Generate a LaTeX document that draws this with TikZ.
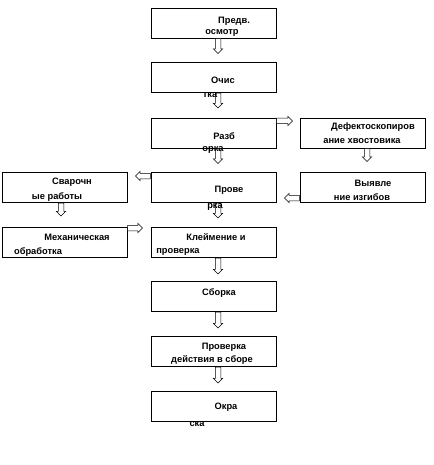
\documentclass[tikz,border=0pt]{standalone}
\usepackage{fontspec}
\setmainfont{Liberation Sans}
\usetikzlibrary{shapes.arrows, positioning}

\begin{document}
\begin{tikzpicture}[x=1pt, y=-1pt,
    box/.style={draw, line width=0.6pt, minimum width=125pt, minimum height=30pt, inner sep=0pt},
    lbl/.style={inner sep=0pt, font=\fontsize{9.3}{10}\selectfont\bfseries},
    arr/.style={single arrow, draw, line width=0.5pt, fill=white, inner sep=2.5pt,
        minimum width=9pt, single arrow head extend=2pt, single arrow head indent=0pt,
        shape border rotate=#1, anchor=tail}
]
\useasboundingbox (0,0) rectangle (433,465);

% main column
\node[box] (osm) at (213.5, 23) {};
\node[box] (och) at (213.5, 77.5) {};
\node[box] (razb) at (213.5, 133) {};
\node[box] (prov) at (213.5, 187.5) {};
\node[box] (kleim) at (213.5, 242.5) {};
\node[box] (sborka) at (213.5, 296.5) {};
\node[box] (provsb) at (213.5, 351.5) {};
\node[box] (okr) at (213.5, 406) {};
% side boxes
\node[box] (defekt) at (362.5, 133) {};
\node[box] (vyyav) at (362.5, 187.5) {};
\node[box] (svar) at (64.5, 187.5) {};
\node[box] (mekh) at (64.5, 242.5) {};

% down arrows along the main column
\node[arr=270, minimum height=15pt] at ([xshift=4.5pt]osm.south) {};
\node[arr=270, minimum height=15pt] at ([xshift=4.5pt]och.south) {};
\node[arr=270, minimum height=15pt] at ([xshift=4.5pt]razb.south) {};
\node[arr=270, minimum height=15pt] at ([xshift=4.5pt]prov.south) {};
\node[arr=270, minimum height=16pt] at ([xshift=4.5pt]kleim.south) {};
\node[arr=270, minimum height=16pt] at ([xshift=4.5pt]sborka.south) {};
\node[arr=270, minimum height=16pt] at ([xshift=4.5pt]provsb.south) {};

% side arrows
\node[arr=0, minimum height=16pt] at ([yshift=12pt]razb.east) {};
\node[arr=270, minimum height=13pt] at ([xshift=4.5pt]defekt.south) {};
\node[arr=180, minimum height=15pt] at ([yshift=-10.5pt]vyyav.west) {};
\node[arr=180, minimum height=15pt] at ([yshift=11.5pt]prov.west) {};
\node[arr=270, minimum height=13pt] at ([xshift=-3.5pt]svar.south) {};
\node[arr=0, minimum height=15pt] at ([yshift=14.5pt]mekh.east) {};

% labels
\node[lbl] at (234, 21) {Предв.};
\node[lbl] at (222, 33) {осмотр};
\node[lbl] at (223, 80) {Очис};
\node[lbl] at (210, 95) {тка};
\node[lbl] at (224, 136) {Разб};
\node[lbl] at (213, 150) {орка};
\node[lbl] at (373, 127) {Дефектоскопиров};
\node[lbl] at (362, 141) {ание хвостовика};
\node[lbl] at (229, 190) {Прове};
\node[lbl] at (215, 207) {рка};
\node[lbl] at (373, 183) {Выявле};
\node[lbl] at (362, 197) {ние изгибов};
\node[lbl] at (72, 182) {Сварочн};
\node[lbl] at (57, 197) {ые работы};
\node[lbl] at (77, 237) {Механическая};
\node[lbl] at (38, 252) {обработка};
\node[lbl] at (216, 237) {Клеймение и};
\node[lbl] at (178, 252) {проверка};
\node[lbl] at (219, 293) {Сборка};
\node[lbl] at (224, 347) {Проверка};
\node[lbl] at (212, 360) {действия в сборе};
\node[lbl] at (226, 407) {Окра};
\node[lbl] at (197, 424) {ска};
\end{tikzpicture}
\end{document}
